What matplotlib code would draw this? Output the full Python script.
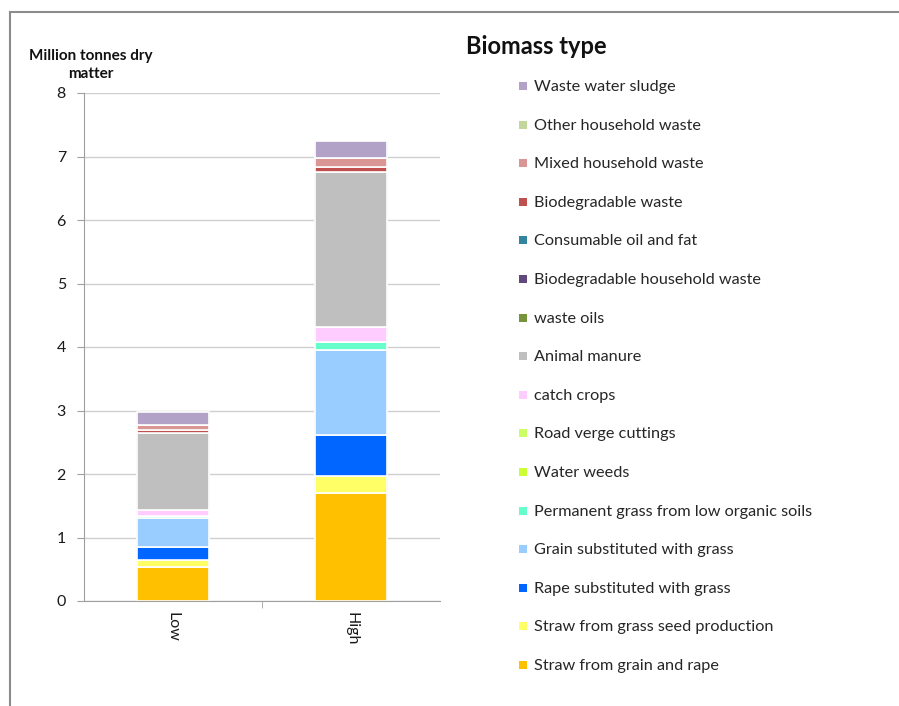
import matplotlib
matplotlib.use("Agg")
import matplotlib.pyplot as plt
from matplotlib.patches import Rectangle
import numpy as np

plt.rcParams['font.family'] = ['Lato', 'DejaVu Sans']

scenarios = ["Low", "High"]

# stacking order, bottom to top
biomass_types = [
    "Straw from grain and rape",
    "Straw from grass seed production",
    "Rape substituted with grass",
    "Grain substituted with grass",
    "Permanent grass from low organic soils",
    "Water weeds",
    "Road verge cuttings",
    "catch crops",
    "Animal manure",
    "waste oils",
    "Biodegradable household waste",
    "Consumable oil and fat",
    "Biodegradable waste",
    "Mixed household waste",
    "Other household waste",
    "Waste water sludge",
]

low_values = [0.54, 0.10, 0.21, 0.45, 0.04, 0.0, 0.0, 0.09, 1.22, 0.0, 0.0, 0.0, 0.05, 0.07, 0.0, 0.20]
high_values = [1.70, 0.27, 0.65, 1.33, 0.13, 0.0, 0.0, 0.24, 2.44, 0.0, 0.0, 0.0, 0.08, 0.14, 0.0, 0.26]

colors = [
    "#FFC000", "#FFFF66", "#0066FF", "#99CCFF", "#66FFCC", "#CCFF33",
    "#CCFF66", "#FFCCFF", "#BFBFBF", "#77933C", "#604A7B", "#31859C",
    "#C0504D", "#D99694", "#C3D69B", "#B3A2C7",
]

W, H = 899, 706
fig = plt.figure(figsize=(W / 100, H / 100), dpi=100)
fig.patch.set_facecolor("white")

# outer frame (top and left edges)
fig.add_artist(plt.Line2D([10 / W, 10 / W], [0, 1 - 12 / H], color="#8c8c8c", lw=1.5))
fig.add_artist(plt.Line2D([10 / W, 1], [1 - 12 / H, 1 - 12 / H], color="#8c8c8c", lw=1.5))

ax = fig.add_axes([84 / W, 1 - 601 / H, (440 - 84) / W, (601 - 93) / H])

x = np.arange(len(scenarios))
data = np.array([low_values, high_values])
bottoms = np.zeros(len(scenarios))
width = 0.4

# soft shadow behind each stack
totals = data.sum(axis=1)
ax.bar(x, totals, width=width + 0.02, color="#e6e6e6", edgecolor="none", zorder=1.5)

for j, name in enumerate(biomass_types):
    vals = data[:, j]
    ax.bar(x, vals, width=width, bottom=bottoms, color=colors[j],
           edgecolor="white", linewidth=1.2, zorder=2)
    bottoms += vals

ax.set_xlim(-0.5, 1.5)
ax.set_ylim(0, 8)
ax.set_yticks(range(0, 9))
ax.set_xticks(x)
ax.set_xticklabels(scenarios, rotation=-90, fontsize=11.5, color="#1a1a1a")
ax.tick_params(axis="y", labelsize=11.5, colors="#1a1a1a", length=5, color="#a0a0a0", pad=8)
ax.tick_params(axis="x", length=0, pad=8)
ax.set_xticks([0.5], minor=True)
ax.tick_params(axis="x", which="minor", length=5, color="#a0a0a0")
ax.yaxis.grid(True, color="#d0d0d0", lw=1)
ax.set_axisbelow(True)
for s in ["top", "right"]:
    ax.spines[s].set_visible(False)
ax.spines["left"].set_color("#a0a0a0")
ax.spines["bottom"].set_color("#a0a0a0")

fig.text(91 / W, 1 - 65 / H, "Million tonnes dry\nmatter", ha="center", va="center",
         fontsize=11, fontweight="bold", color="#111111", linespacing=1.45)

# legend, top to bottom in reverse stacking order
fig.text(466 / W, 1 - 47 / H, "Biomass type", ha="left", va="center",
         fontsize=17, fontweight="bold", color="#111111")
y0, dy = 86, 38.6
for i, j in enumerate(range(len(biomass_types) - 1, -1, -1)):
    yc = y0 + i * dy
    fig.add_artist(Rectangle((519 / W, 1 - (yc + 4) / H), 8 / W, 8 / H,
                             facecolor=colors[j], edgecolor="none",
                             transform=fig.transFigure))
    fig.text(534 / W, 1 - (yc + 1) / H, biomass_types[j], ha="left", va="center",
             fontsize=11.7, color="#262626")

fig.savefig("out.png", dpi=100, facecolor="white")
